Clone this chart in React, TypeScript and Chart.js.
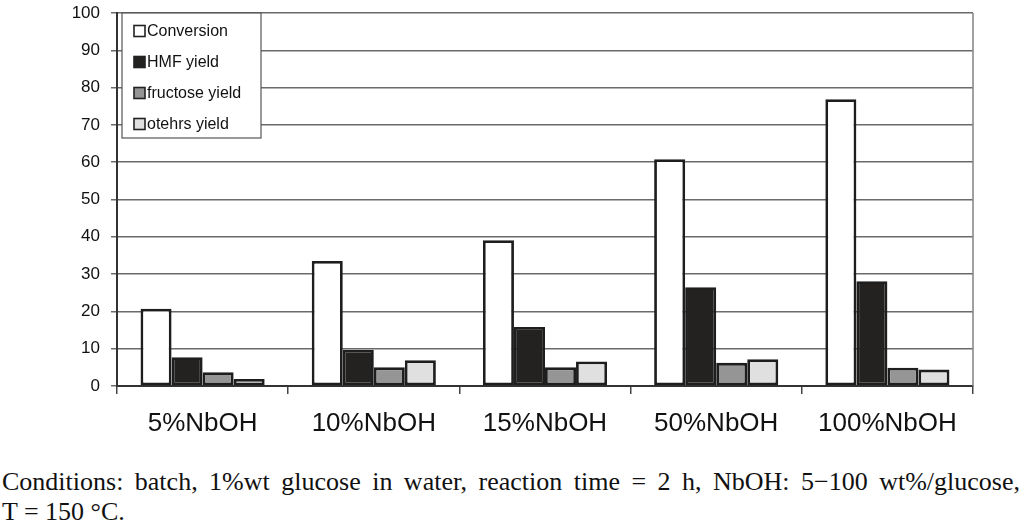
import { useEffect, useRef } from 'react';
import { Chart, registerables } from 'chart.js';

Chart.register(...registerables);

const categories = ['5%NbOH', '10%NbOH', '15%NbOH', '50%NbOH', '100%NbOH'];
const conversion = [20.7, 33.5, 39.1, 60.8, 76.9];
const hmfYield = [7.7, 9.7, 15.8, 26.5, 28.1];
const fructoseYield = [3.7, 5.0, 5.0, 6.2, 4.9];
const othersYield = [1.9, 6.9, 6.6, 7.2, 4.4];
const seriesNames = ['Conversion', 'HMF yield', 'fructose yield', 'otehrs yield'];
const seriesColors = ['#ffffff', '#242220', '#959595', '#e0e0e0'];

// legend box drawn inside the plot, top left
const legendBox = {
  id: 'legendBox',
  afterDraw(chart: any) {
    const { ctx, chartArea } = chart;
    const x0 = chartArea.left + 5;
    const y0 = chartArea.top;
    ctx.save();
    ctx.fillStyle = '#ffffff';
    ctx.fillRect(x0, y0, 139, 125);
    ctx.strokeStyle = '#555';
    ctx.lineWidth = 1.2;
    ctx.strokeRect(x0, y0, 139, 125);
    ctx.font = '16px Arial, "Liberation Sans", sans-serif';
    ctx.textBaseline = 'middle';
    chart.data.datasets.forEach((ds: any, i: number) => {
      const cy = y0 + 18 + i * 31;
      ctx.fillStyle = ds.backgroundColor;
      ctx.fillRect(x0 + 12, cy - 5.5, 11, 11);
      ctx.strokeStyle = '#222';
      ctx.lineWidth = 1.6;
      ctx.strokeRect(x0 + 12, cy - 5.5, 11, 11);
      ctx.fillStyle = '#111';
      ctx.fillText(ds.label, x0 + 25, cy + 1);
    });
    ctx.restore();
  },
};

// grey right border of the plot area
const plotBorder = {
  id: 'plotBorder',
  beforeDatasetsDraw(chart: any) {
    const { ctx, chartArea } = chart;
    ctx.save();
    ctx.strokeStyle = '#8a8a8a';
    ctx.lineWidth = 1.6;
    ctx.beginPath();
    ctx.moveTo(chartArea.right, chartArea.top);
    ctx.lineTo(chartArea.right, chartArea.bottom);
    ctx.stroke();
    ctx.restore();
  },
};

const NbChart = () => {
  const canvasRef = useRef<HTMLCanvasElement>(null);

  useEffect(() => {
    if (!canvasRef.current) return;
    const values = [conversion, hmfYield, fructoseYield, othersYield];

    const chart = new Chart(canvasRef.current, {
      type: 'bar',
      data: {
        labels: categories,
        datasets: values.map((v, i) => ({
          label: seriesNames[i],
          data: v,
          backgroundColor: seriesColors[i],
          borderColor: '#1e1e1e',
          borderWidth: 2.8,
          borderSkipped: false,
          categoryPercentage: 0.725,
          barPercentage: 1,
        })),
      },
      options: {
        animation: false,
        responsive: true,
        maintainAspectRatio: false,
        layout: { padding: { left: 0, right: 51, top: 13, bottom: 0 } },
        plugins: {
          legend: { display: false },
          tooltip: { enabled: false },
        },
        scales: {
          x: {
            afterFit: (scale: any) => { scale.height = 64; },
            grid: {
              offset: true,
              drawOnChartArea: false,
              tickLength: 8,
              color: '#444',
              lineWidth: 1.5,
            },
            border: { color: '#333', width: 2 },
            ticks: {
              color: '#111',
              padding: 14,
              font: { family: 'Arial, "Liberation Sans", sans-serif', size: 26 },
            },
          },
          y: {
            min: 0,
            max: 100,
            afterFit: (scale: any) => {
              scale.width = 117;
              scale.paddingTop = 0;
              scale.paddingBottom = 0;
            },
            grid: { color: '#6a6a6a', lineWidth: 1.5, tickLength: 6 },
            border: { color: '#333', width: 2 },
            ticks: {
              stepSize: 10,
              color: '#111',
              padding: 11,
              font: { family: 'Arial, "Liberation Sans", sans-serif', size: 17 },
            },
          },
        },
      },
      plugins: [plotBorder, legendBox],
    });

    return () => chart.destroy();
  }, []);

  return (
    <div style={{ position: 'absolute', left: 0, top: 0, width: '1024px', height: '450px' }}>
      <canvas ref={canvasRef} />
    </div>
  );
};

export default function App() {
  const captionStyle = {
    fontFamily: '"Times New Roman", "Liberation Serif", serif',
    fontSize: '26px',
    color: '#111',
    lineHeight: '30px',
    whiteSpace: 'nowrap' as const,
  };
  return (
    <div style={{ position: 'absolute', left: 0, top: 0, width: '1024px', height: '528px', background: '#fff', overflow: 'hidden' }}>
      <NbChart />
      <div style={{ position: 'absolute', left: 2, top: 467, width: '1018px' }}>
        <div style={{ ...captionStyle, whiteSpace: 'normal', textAlign: 'justify', textAlignLast: 'justify' }}>
          Conditions: batch, 1%wt glucose in water, reaction time = 2 h, NbOH: 5−100 wt%/glucose,
        </div>
        <div style={captionStyle}>T = 150 °C.</div>
      </div>
    </div>
  );
}
